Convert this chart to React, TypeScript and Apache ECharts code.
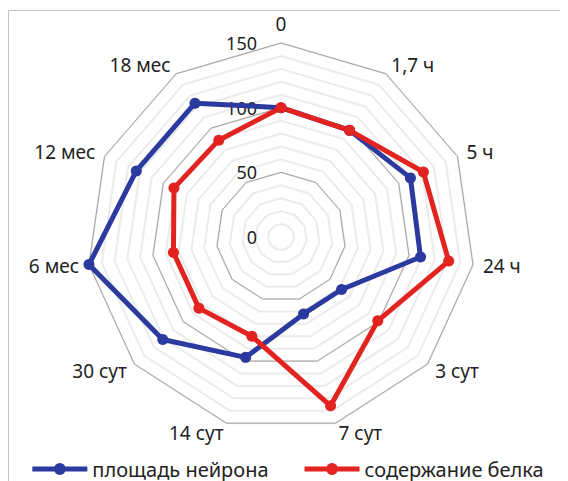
import React, { useEffect, useRef } from 'react';
import * as echarts from 'echarts';

const categories = ['0', '1,7 ч', '5 ч', '24 ч', '3 сут', '7 сут', '14 сут', '30 сут', '6 мес', '12 мес', '18 мес'];
const neuronArea = [100, 98, 110, 109, 62, 62, 97, 121, 150, 123, 123];
const proteinContent = [100, 98, 121, 131, 99, 136, 80, 84, 84, 91, 89];
const seriesNames = ['площадь нейрона', 'содержание белка'];
const radialTicks = [0, 50, 100, 150];
const radialMax = 150;
const minorStep = 10;
const majorStep = 50;

const BLUE = '#2b3a9e';
const RED = '#e2231f';
const FONT = 'Noto Sans';

// ECharts lays indicators out counter-clockwise; reorder so they run clockwise from the top.
const order = [0, ...categories.map((_, i) => i).slice(1).reverse()];
const pick = <T,>(arr: T[]) => order.map((i) => arr[i]);

const legendIcon =
  'path://M0,3.5 L55,3.5 L55,8.5 L0,8.5 Z M33.5,6 A6,6 0 1,1 21.5,6 A6,6 0 1,1 33.5,6 Z';

export default function App() {
  const ref = useRef<HTMLDivElement>(null);

  useEffect(() => {
    if (!ref.current) return;
    const chart = echarts.init(ref.current, null, { renderer: 'svg' });
    const center = [273, 229];
    const radius = 194;

    const cats = pick(categories);
    const minorIndicators = cats.map((c) => ({ name: c, min: 0, max: radialMax }));
    const majorIndicators = cats.map((c, i) => {
      const ind: any = { name: c, min: 0, max: radialMax };
      if (i === 0) {
        ind.axisLabel = {
          show: true,
          margin: 24,
          fontSize: 18,
          fontFamily: FONT,
          color: '#222',
          formatter: (v: number) => (radialTicks.indexOf(v) >= 0 ? String(v) : ''),
        };
      }
      return ind;
    });

    chart.setOption({
      animation: false,
      backgroundColor: '#ffffff',
      textStyle: { fontFamily: FONT },
      graphic: [
        {
          type: 'rect',
          silent: true,
          shape: { x: 0.5, y: 2.5, width: 1000, height: 1000 },
          style: { fill: 'none', stroke: '#c4c4c4', lineWidth: 1 },
        },
      ],
      legend: {
        left: 'center',
        top: 446,
        itemWidth: 55,
        itemHeight: 12,
        itemGap: 36,
        textStyle: { fontSize: 20, fontFamily: FONT, color: '#222' },
        data: seriesNames.map((n) => ({ name: n, icon: legendIcon })),
      },
      radar: [
        {
          center,
          radius,
          startAngle: 90,
          shape: 'polygon',
          splitNumber: radialMax / minorStep,
          indicator: minorIndicators,
          axisName: { show: false },
          axisLine: { show: false },
          axisTick: { show: false },
          axisLabel: { show: false },
          splitArea: { show: false },
          splitLine: { lineStyle: { color: '#ebebeb', width: 2 } },
        },
        {
          center,
          radius,
          startAngle: 90,
          shape: 'polygon',
          splitNumber: radialMax / majorStep,
          indicator: majorIndicators,
          nameGap: 10,
          axisName: { color: '#222', fontSize: 19, fontFamily: FONT },
          axisLine: { show: false },
          axisTick: { show: false },
          axisLabel: { show: false },
          splitArea: { show: false },
          splitLine: { lineStyle: { color: '#a8a09c', width: 1 } },
        },
      ],
      series: [
        {
          type: 'radar',
          radarIndex: 1,
          symbol: 'circle',
          symbolSize: 11,
          data: [
            {
              name: seriesNames[0],
              value: pick(neuronArea),
              lineStyle: { color: BLUE, width: 5 },
              itemStyle: { color: BLUE },
            },
            {
              name: seriesNames[1],
              value: pick(proteinContent),
              lineStyle: { color: RED, width: 5 },
              itemStyle: { color: RED },
            },
          ],
        },
      ],
    });
    return () => chart.dispose();
  }, []);

  return <div ref={ref} style={{ width: 560, height: 473 }} />;
}
